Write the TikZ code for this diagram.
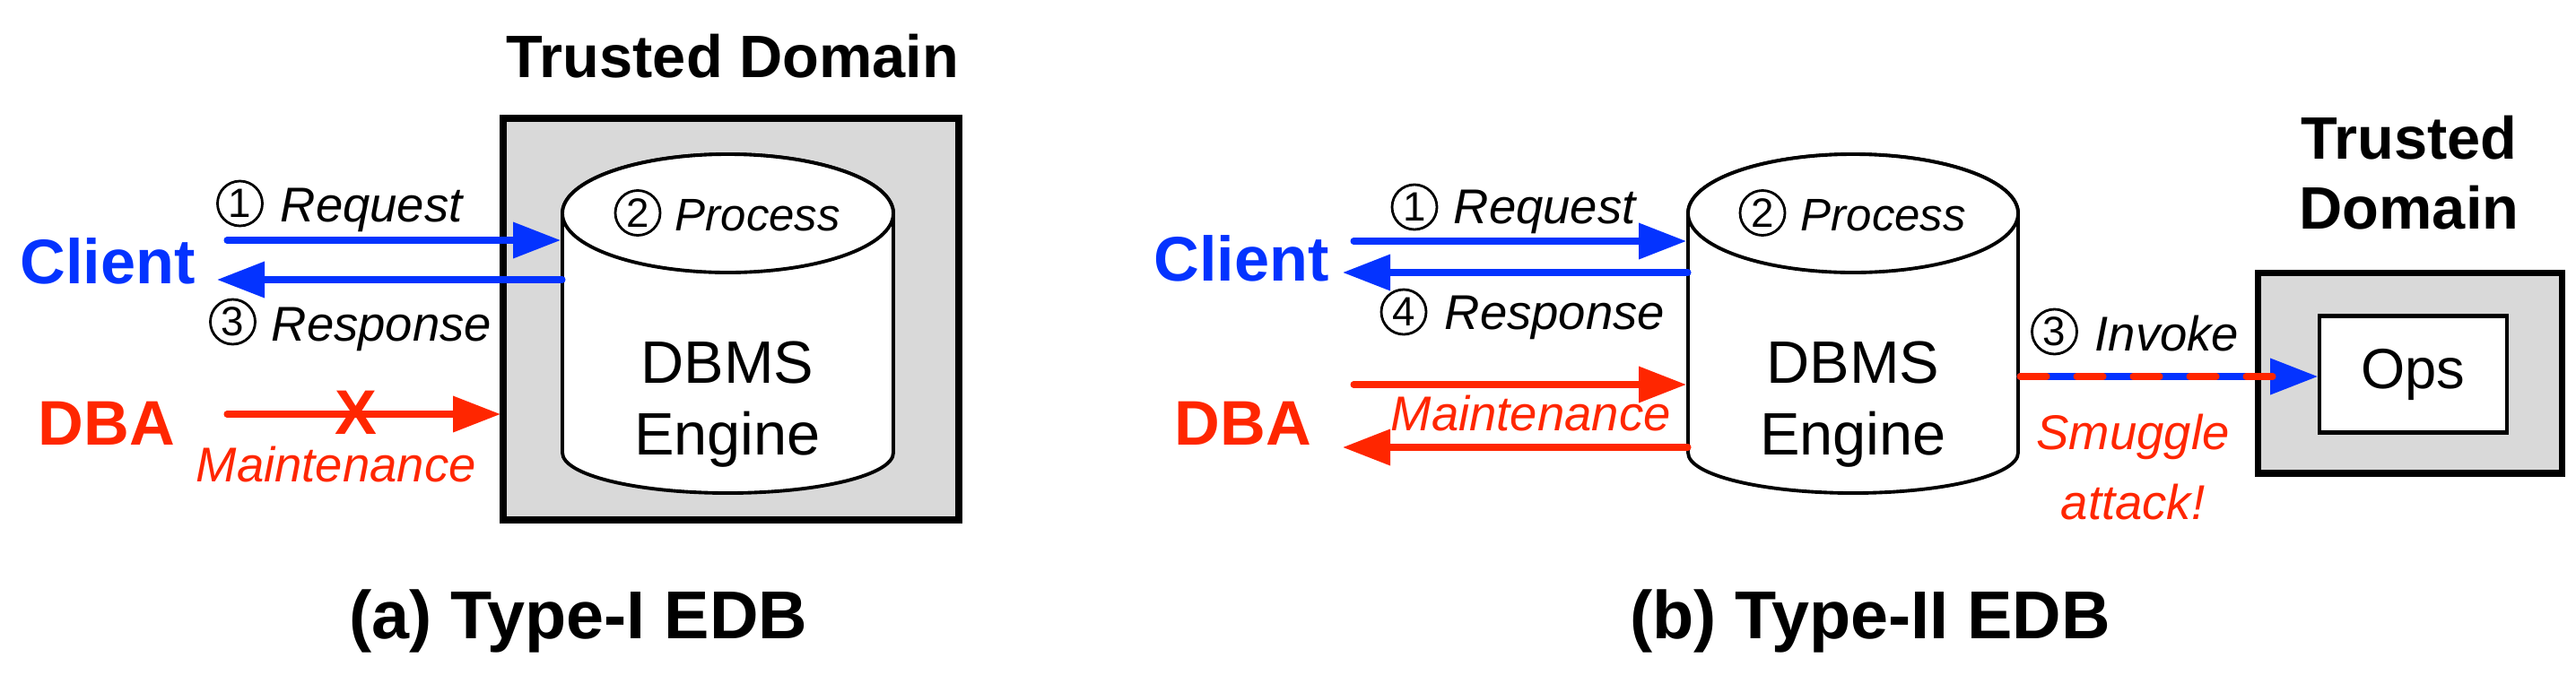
\documentclass[tikz,border=0pt]{standalone}
\usepackage{fontspec}
\setmainfont{Liberation Sans}
\usepackage{xcolor}
\usetikzlibrary{arrows.meta,positioning,calc}

\definecolor{reqblue}{RGB}{4,51,255}
\definecolor{atkred}{RGB}{255,38,0}
\definecolor{domgray}{RGB}{217,217,217}

\tikzset{
  domtitle/.style={font=\bfseries\fontsize{19}{22.2}\selectfont, align=center},
  actor/.style={font=\bfseries\fontsize{20}{24}\selectfont},
  msg/.style={font=\itshape\fontsize{15.5}{18}\selectfont, inner sep=0pt, anchor=base west},
  numcirc/.style={circle, draw, line width=0.8pt, minimum size=0.5cm, inner sep=0pt,
    font=\fontsize{13}{15}\selectfont},
  warn/.style={font=\itshape\fontsize{15.5}{22.2}\selectfont, align=center, atkred},
  subcap/.style={font=\bfseries\fontsize{21.5}{26}\selectfont},
  dbtext/.style={font=\fontsize{19}{22.8}\selectfont, align=center},
  flow/.style={line width=2pt, line cap=round, -{Triangle[length=0.53cm,width=0.39cm]}},
  trustbox/.style={draw, fill=domgray, line width=2pt},
  cyl/.style={draw, fill=white, line width=1.1pt},
}

\begin{document}
\begin{tikzpicture}
    \useasboundingbox (0,0) rectangle (28.72,7.52);
    % (a) type-I: engine inside the trusted domain
    \node[domtitle] (dom1) at (8.17,6.89) {Trusted Domain};
    \draw[trustbox] (5.61,6.20) rectangle (10.69,1.72);
    \path[cyl] (6.27,5.14) -- (6.27,2.47) arc[start angle=180, end angle=360, x radius=1.845, y radius=0.45]
      -- (9.96,5.14) arc[start angle=0, end angle=180, x radius=1.845, y radius=0.66] -- cycle;
    \draw[cyl] (8.115,5.14) ellipse [x radius=1.845, y radius=0.66];
    \node[numcirc] (n2a) at (7.11,5.145) {2};
    \node[msg, font=\itshape\fontsize{14.5}{18}\selectfont] (proc1) at (7.52,4.95) {Process};
    \node[dbtext] (eng1) at (8.11,3.01) {DBMS\\Engine};
    \node[actor, reqblue] (client1) at (1.20,4.61) {Client};
    \node[actor, atkred] (dba1) at (1.19,2.80) {DBA};
    \coordinate (req1a) at (2.53,4.84);  \coordinate (req1b) at (6.25,4.84);
    \coordinate (resp1a) at (6.27,4.40); \coordinate (resp1b) at (2.42,4.40);
    \coordinate (mnt1a) at (2.53,2.90);  \coordinate (mnt1b) at (5.58,2.90);
    \draw[flow, reqblue] (req1a) -- (req1b);
    \draw[flow, reqblue] (resp1a) -- (resp1b);
    \draw[flow, atkred] (mnt1a) -- (mnt1b);
    \node[numcirc] (n1a) at (2.675,5.25) {1};
    \node[msg] (reqlbl1) at (3.12,5.05) {Request};
    \node[numcirc] (n3a) at (2.595,3.93) {3};
    \node[msg] (resplbl1) at (3.02,3.72) {Response};
    \node[actor, atkred] (deny1) at (3.97,2.92) {X};
    \node[msg, atkred] (mntlbl1) at (2.18,2.15) {Maintenance};
    \node[subcap] (cap1) at (6.45,0.595) {(a) Type-I EDB};

    % (b) type-II: only the ops are trusted
    \path[cyl] (18.82,5.14) -- (18.82,2.47) arc[start angle=180, end angle=360, x radius=1.84, y radius=0.45]
      -- (22.50,5.14) arc[start angle=0, end angle=180, x radius=1.84, y radius=0.66] -- cycle;
    \draw[cyl] (20.66,5.14) ellipse [x radius=1.84, y radius=0.66];
    \node[numcirc] (n2b) at (19.65,5.145) {2};
    \node[msg, font=\itshape\fontsize{14.5}{18}\selectfont] (proc2) at (20.07,4.95) {Process};
    \node[dbtext] (eng2) at (20.66,3.01) {DBMS\\Engine};
    \node[actor, reqblue] (client2) at (13.84,4.64) {Client};
    \node[actor, atkred] (dba2) at (13.86,2.80) {DBA};
    \coordinate (req2a) at (15.09,4.83);  \coordinate (req2b) at (18.80,4.83);
    \coordinate (resp2a) at (18.82,4.48); \coordinate (resp2b) at (14.97,4.48);
    \coordinate (mnt2a) at (15.09,3.23);  \coordinate (mnt2b) at (18.80,3.23);
    \coordinate (back2a) at (18.82,2.53); \coordinate (back2b) at (14.97,2.53);
    \draw[flow, reqblue] (req2a) -- (req2b);
    \draw[flow, reqblue] (resp2a) -- (resp2b);
    \draw[flow, atkred] (mnt2a) -- (mnt2b);
    \draw[flow, atkred] (back2a) -- (back2b);
    \node[numcirc] (n1b) at (15.77,5.21) {1};
    \node[msg] (reqlbl2) at (16.20,5.03) {Request};
    \node[numcirc] (n4b) at (15.65,4.04) {4};
    \node[msg] (resplbl2) at (16.10,3.85) {Response};
    \node[msg, atkred] (mntlbl2) at (15.50,2.72) {Maintenance};
    % trusted ops
    \node[domtitle] (dom2) at (26.86,5.59) {Trusted\\Domain};
    \draw[trustbox] (25.17,4.475) rectangle (28.56,2.24);
    \node[draw, fill=white, line width=1.2pt, minimum width=2.085cm, minimum height=1.30cm,
      font=\fontsize{18}{22}\selectfont] (ops) at (26.905,3.345) {Ops};
    \coordinate (inv2a) at (22.52,3.32);
    \coordinate (dash2b) at (25.42,3.32);
    \draw[flow, reqblue] (inv2a) -- (ops.west |- inv2a);
    \draw[atkred, line width=2pt, line cap=round, dash pattern=on 0.30cm off 0.33cm] (inv2a) -- (dash2b);
    \node[numcirc] (n3b) at (22.905,3.82) {3};
    \node[msg] (invlbl) at (23.35,3.61) {Invoke};
    \node[warn] (smug) at (23.78,2.31) {Smuggle\\attack!};
    \node[subcap] (cap2) at (20.85,0.595) {(b) Type-II EDB};
\end{tikzpicture}
\end{document}
